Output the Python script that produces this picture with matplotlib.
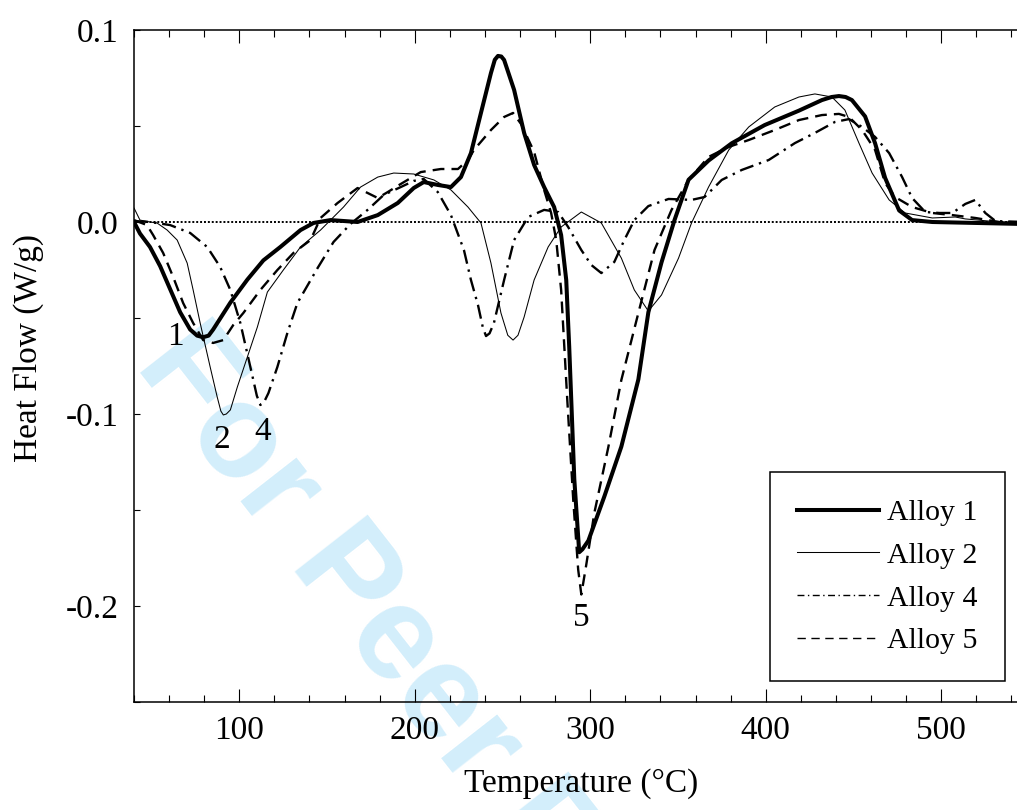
import matplotlib
matplotlib.use("Agg")
import matplotlib.pyplot as plt
from matplotlib.lines import Line2D
from matplotlib.ticker import FixedLocator, MultipleLocator

plt.rcParams['font.family'] = ['Liberation Serif', 'DejaVu Serif']
plt.rcParams['axes.unicode_minus'] = False

# ---------------- data ----------------
temp_1 = [40, 43.4, 49.1, 54.9, 60.6, 66.3, 72.0, 76.0, 79.4, 82.5, 85.1, 94.9, 104.6,
          113.7, 123.4, 134.9, 142.3, 152.0, 167.4, 178.9, 190.3, 199.4, 205.1,
          213.1, 220.6, 226.3, 232.0, 237.7, 243.4, 245.6, 247.4, 249.3, 250.9,
          256.6, 262.3, 268.0, 273.7, 279.4, 283.4, 286.3, 288.0, 290.9, 293.7,
          295.5, 298.9, 308.0, 317.7, 327.4, 333.1, 340.6, 348.0, 356.0, 367.4,
          380.6, 399.4, 418.9, 432.0, 437.5, 441.7, 445.5, 449.1, 456.6, 462.3,
          468.0, 476.0, 483.4, 494.9, 545.0]
heat_1 = [0.0, -0.006, -0.013, -0.023, -0.035, -0.047, -0.056, -0.0592, -0.060,
          -0.0592, -0.056, -0.042, -0.030, -0.020, -0.013, -0.0042, -0.0005, 0.001,
          0.0, 0.0036, 0.0099, 0.0177, 0.0208, 0.0193, 0.0182, 0.0234, 0.0359,
          0.0568, 0.0776, 0.0845, 0.0865, 0.0862, 0.0844, 0.0688, 0.0464, 0.0297,
          0.0182, 0.0078, -0.0068, -0.0302, -0.065, -0.134, -0.172, -0.1705,
          -0.166, -0.143, -0.117, -0.082, -0.047, -0.021, 0.001, 0.022, 0.032,
          0.041, 0.0505, 0.058, 0.0635, 0.0651, 0.0656, 0.0651, 0.0635, 0.055,
          0.041, 0.023, 0.006, 0.001, 0.0, -0.001]

temp_2 = [40, 43.4, 49.1, 53.1, 58.9, 64.6, 70.3, 73.7, 77.7, 83.4, 87.4, 89.5,
          90.9, 92.6, 94.9, 98.9, 104.6, 110.3, 116.0, 125.1, 134.9, 146.3, 159.4,
          169.1, 178.9, 188.0, 199.4, 210.9, 220.6, 230.3, 237.7, 243.4, 249.1,
          253.0, 256.0, 258.8, 262.3, 268.0, 276.0, 283.4, 294.9, 306.3, 317.7,
          325.1, 333.1, 340.6, 350.3, 357.7, 367.4, 378.9, 390.3, 405.1, 418.9,
          428.0, 437.7, 445.1, 453.1, 460.6, 470.3, 479.4, 494.9, 508.0, 513.7,
          533.1, 545.0]
heat_2 = [0.0073, 0.001, 0.0, -0.0005, -0.0042, -0.0094, -0.0214, -0.0354, -0.0526,
          -0.0755, -0.0911, -0.0985, -0.1005, -0.1, -0.0979, -0.0859, -0.0703,
          -0.0547, -0.0365, -0.025, -0.013, -0.0042, 0.0078, 0.0182, 0.0234,
          0.0255, 0.025, 0.0219, 0.0167, 0.0078, -0.0005, -0.0214, -0.0474, -0.059,
          -0.0615, -0.059, -0.0495, -0.0302, -0.013, -0.0026, 0.0052, -0.0005,
          -0.0188, -0.0354, -0.0464, -0.038, -0.0188, -0.0005, 0.0182, 0.0375,
          0.0495, 0.0599, 0.0651, 0.0667, 0.0651, 0.0583, 0.0411, 0.0255, 0.0115,
          0.0047, 0.0021, 0.0026, 0.0016, 0.0, 0.0]

temp_4 = [40, 49.1, 60.6, 72.0, 81.7, 89.1, 94.9, 100.6, 106.3, 110.0, 112.0, 114.0,
          116.6, 121.7, 127.4, 133.1, 144.6, 153.7, 163.4, 173.1, 182.3, 192.0,
          199.4, 205.1, 213.1, 220.6, 228.0, 232.0, 236.0, 238.8, 240.6, 242.6,
          245.1, 250.9, 256.6, 264.6, 273.7, 281.7, 287.4, 294.9, 300.6, 306.3,
          313.7, 319.4, 325.1, 333.1, 344.6, 357.7, 365.1, 374.9, 386.3, 401.7,
          416.6, 428.0, 439.4, 447.4, 454.9, 462.3, 470.3, 477.7, 483.4, 490.9,
          498.9, 506.3, 513.7, 519.4, 525.1, 530.9, 545.0]
heat_4 = [0.0005, 0.0, -0.0016, -0.0057, -0.013, -0.0234, -0.0354, -0.0526, -0.0755,
          -0.0905, -0.0953, -0.094, -0.0891, -0.0755, -0.0578, -0.0422, -0.024,
          -0.0104, -0.001, 0.0063, 0.0141, 0.0182, 0.0214, 0.0224, 0.0156, 0.0036,
          -0.0146, -0.0302, -0.0432, -0.055, -0.0594, -0.058, -0.0526, -0.0302,
          -0.0094, 0.0026, 0.0063, 0.0052, -0.0026, -0.0146, -0.0224, -0.0266,
          -0.0208, -0.0094, 0.001, 0.0083, 0.012, 0.0115, 0.013, 0.0219, 0.0271,
          0.0323, 0.0411, 0.0464, 0.0521, 0.0536, 0.0495, 0.0443, 0.0359, 0.0234,
          0.0125, 0.0052, 0.0047, 0.0047, 0.0094, 0.0115, 0.0047, 0.0005, 0.0]

temp_5 = [40, 47.4, 50.9, 56.6, 62.3, 68.0, 73.7, 79.4, 85.1, 90.9, 96.6, 102.3,
          112.0, 121.7, 130.9, 140.6, 146.3, 156.0, 167.4, 178.9, 184.6, 192.0,
          203.4, 214.9, 224.6, 230.3, 233.7, 243.4, 250.9, 256.0, 260.6, 268.0,
          273.7, 277.7, 280.6, 283.4, 286.9, 290.3, 293.1, 294.9, 297.7, 302.3,
          310.3, 317.7, 327.4, 336.6, 346.3, 356.0, 367.4, 378.9, 390.3, 405.1,
          418.9, 432.0, 441.7, 447.4, 454.9, 462.3, 468.0, 473.7, 483.4, 494.9,
          506.3, 519.4, 533.1, 545.0]
heat_5 = [0.001, -0.0016, -0.0068, -0.0161, -0.0286, -0.0422, -0.0526, -0.0615,
          -0.063, -0.0615, -0.0536, -0.0474, -0.0354, -0.025, -0.0161, -0.0094,
          0.0021, 0.0099, 0.0177, 0.0125, 0.0156, 0.0198, 0.026, 0.0276, 0.0276,
          0.0323, 0.0375, 0.0479, 0.0547, 0.0568, 0.051, 0.0365, 0.0167, 0.0047,
          -0.0094, -0.0354, -0.0927, -0.1448, -0.181, -0.194, -0.1786, -0.1516,
          -0.1172, -0.0823, -0.0474, -0.0146, 0.0063, 0.0219, 0.0339, 0.0391,
          0.0427, 0.0479, 0.0531, 0.0557, 0.0563, 0.0547, 0.0479, 0.0375, 0.0203,
          0.013, 0.0078, 0.0047, 0.0036, 0.0021, 0.0, 0.0]

series_names = ["Alloy 1", "Alloy 2", "Alloy 4", "Alloy 5"]
peak_labels = ["1", "2", "4", "5"]
peak_label_x = [63.4, 90.3, 113.1, 294.9]
peak_label_y = [-0.060, -0.1135, -0.109, -0.206]

x_major = [100, 200, 300, 400, 500]
x_major_labels = ["100", "200", "300", "400", "500"]
y_major = [-0.2, -0.1, 0.0, 0.1]
y_major_labels = ["-0.2", "-0.1", "0.0", "0.1"]

# ---------------- figure ----------------
W, H = 1017, 810
fig = plt.figure(figsize=(W / 100, H / 100), dpi=100)

# watermark (behind everything)
fig.text(134 / W, 1 - 365 / H, "For Peer Review", family="Liberation Sans",
         weight="bold", fontsize=96, color="#d3eefb", rotation=-52,
         rotation_mode="anchor", ha="left", va="baseline", zorder=-5)

ax = fig.add_axes([134 / W, 1 - 702 / H, 895 / W, 672 / H])
ax.set_zorder(1)
ax.patch.set_alpha(0)
ax.set_xlim(40, 550)
ax.set_ylim(-0.25, 0.1)

ax.axhline(0, color="black", lw=1.4, ls=(0, (1, 1)), zorder=1)

styles = [dict(color="black", lw=2.9, ls="-"),
          dict(color="black", lw=0.75, ls="-"),
          dict(color="black", lw=1.7, ls=(0, (6, 2.5, 1, 2.5))),
          dict(color="black", lw=1.7, ls=(0, (5, 3)))]
data = [(temp_1, heat_1), (temp_2, heat_2), (temp_4, heat_4), (temp_5, heat_5)]
for (t, h), st in zip(data, styles):
    ax.plot(t, h, solid_capstyle="round", solid_joinstyle="round",
            dash_capstyle="butt", zorder=3, **st)

for lab, lx, ly in zip(peak_labels, peak_label_x, peak_label_y):
    ax.text(lx, ly, lab, fontsize=24, ha="center", va="center", zorder=4)

# ticks
ax.xaxis.set_major_locator(FixedLocator(x_major))
ax.set_xticklabels(x_major_labels)
ax.xaxis.set_minor_locator(MultipleLocator(20))
ax.yaxis.set_major_locator(FixedLocator(y_major))
ax.set_yticklabels(y_major_labels)
ax.yaxis.set_minor_locator(MultipleLocator(0.05))

ax.tick_params(axis="x", which="both", direction="in", top=True, bottom=True,
               labelsize=24, width=0.8, pad=10)
ax.tick_params(axis="x", which="major", length=9.5)
ax.tick_params(axis="x", which="minor", length=5)
ax.tick_params(axis="y", which="both", direction="in", left=True, right=False,
               labelsize=24, width=0.8, length=4.5, pad=11)

for side in ["left", "bottom", "top"]:
    ax.spines[side].set_linewidth(1.1)
ax.spines["right"].set_visible(False)

ax.set_xlabel("Temperature (°C)", fontsize=24, labelpad=16)
ax.set_ylabel("Heat Flow (W/g)", fontsize=24)
ax.yaxis.set_label_coords(-0.1, 0.527)

# legend with slimmer handles like the reference
handles = [Line2D([], [], color="black", lw=2.9),
           Line2D([], [], color="black", lw=0.75),
           Line2D([], [], color="black", lw=1.0, ls=(0, (5, 2.5, 1, 2.5))),
           Line2D([], [], color="black", lw=1.0, ls=(0, (6, 4)))]
leg = ax.legend(handles, series_names, loc="lower left",
                bbox_to_anchor=(0.7106, 0.031), fontsize=21.5, frameon=True,
                fancybox=False, edgecolor="black", framealpha=1,
                handlelength=2.75, handletextpad=0.28, labelspacing=0.53,
                borderpad=0.9, borderaxespad=0)
leg.get_frame().set_linewidth(1.1)

fig.savefig("out.png", dpi=100)
